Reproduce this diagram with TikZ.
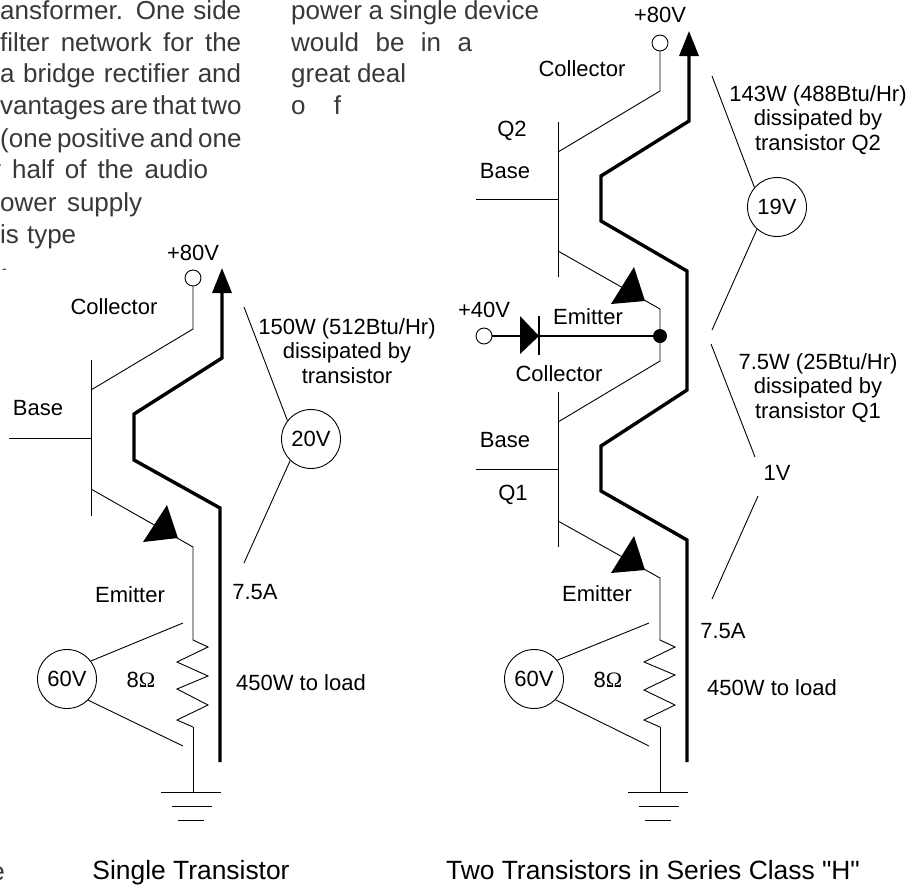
\documentclass[tikz,border=0pt]{standalone}
\usepackage{fontspec}
\setmainfont{Liberation Sans}
\newfontfamily\ohmfont{Liberation Serif}
\newfontfamily\quotefont{Liberation Sans}
\usetikzlibrary{arrows.meta}
\newcommand{\bodyline}[2]{\makebox[#1][s]{#2}}
\newcommand{\groundmark}[2]{%
	\draw[thinwire] (#1) -- (#2,792);
	\draw[thinwire] (#2-32,792) -- (#2+28,792);
	\draw[thinwire] (#2-21,806) -- (#2+19,806);
	\draw[thinwire] (#2-15,820) -- (#2+11,820);
}
\begin{document}
\begin{tikzpicture}[x=1pt,y=-1pt]
		\tikzstyle{thinwire}=[draw=black,line width=0.9pt,line join=miter]
		\tikzstyle{current}=[draw=black,line width=3.4pt,line join=miter]
		\tikzstyle{uparrow}=[current,-{Triangle[length=25pt,width=19pt]}]
		\tikzstyle{tipfill}=[fill=black]
		\tikzstyle{volt}=[circle,draw=black,line width=0.9pt,minimum size=59pt,inner sep=0pt,font=\fontsize{22}{24}\selectfont]
		\tikzstyle{term}=[circle,draw=black,fill=white,line width=0.9pt,minimum size=16pt,inner sep=0pt]
		\tikzstyle{lab}=[inner sep=0pt,font=\fontsize{22}{24.5}\selectfont,align=center]
		\tikzstyle{captext}=[inner sep=0pt,anchor=base,font=\fontsize{26.4}{30}\selectfont]
		\tikzstyle{bodytext}=[inner sep=0pt,anchor=base west,text=black!78,font=\fontsize{26}{32}\selectfont]
		
		\useasboundingbox (0,0) rectangle (917,884);
		
		% text cut by the page
		\node[bodytext] (t1) at (0,19) {\bodyline{241pt}{ansformer. One side}};
		\node[bodytext] (t2) at (0,51) {\bodyline{241pt}{filter network for the}};
		\node[bodytext] (t3) at (0,82) {\bodyline{241pt}{a bridge rectifier and}};
		\node[bodytext] (t4) at (0,114) {\bodyline{241pt}{vantages are that two}};
		\node[bodytext] (t5) at (0,147) {\bodyline{241pt}{(one positive and one}};
		\node[bodytext] (t6) at (-12,178) {\bodyline{220pt}{y half of the audio}};
		\node[bodytext] (t7) at (0,211) {\bodyline{142pt}{ower supply}};
		\node[bodytext] (t8) at (0,243) {\bodyline{76pt}{is type}};
		\node[bodytext,font=\fontsize{14}{16}\selectfont] (t9) at (2,273) {-};
		\node[bodytext,anchor=base east] (t10) at (5,880) {e};
		\node[bodytext] (u1) at (291,19) {\bodyline{248pt}{power a single device}};
		\node[bodytext] (u2) at (291,51) {\bodyline{181pt}{would be in a}};
		\node[bodytext] (u3) at (291,82) {\bodyline{115pt}{great deal}};
		\node[bodytext] (u4) at (291,114) {\bodyline{50pt}{o f}};
		
		% single transistor
		\node[term] (Aplus) at (193,278) {};
		\node[lab] (Asupply) at (193,253) {+80V};
		\node[lab] (Acoll) at (114,307) {Collector};
		\node[lab] (Abase) at (38,408) {Base};
		\node[lab] (Aemit) at (130,595) {Emitter};
		\node[lab] (Acur) at (255,592) {7.5A};
		\node[lab] (Aohm) at (141,680) {8{\ohmfont Ω}};
		\node[lab] (Aload) at (301,683) {450W to load};
		\node[lab] (Adiss) at (347,351) {150W (512Btu/Hr)\\dissipated by\\transistor};
		\node[volt] (Adrop) at (311,439) {20V};
		\node[volt] (Asense) at (67,679) {60V};
		
		\coordinate (Ac) at (193,329);
		\coordinate (Abt) at (91,360);
		\coordinate (Acb) at (91,390);
		\coordinate (Abm) at (91,438);
		\coordinate (Ain) at (9,438);
		\coordinate (Aeb) at (91,489);
		\coordinate (Abb) at (91,516);
		\coordinate (Ae) at (193,547);
		\coordinate (Ar) at (193,727);
		
		\draw[thinwire] (Aplus) -- (Ac) -- (Acb);
		\draw[thinwire] (Abt) -- (Abb);
		\draw[thinwire] (Ain) -- (Abm);
		\draw[thinwire] (Aeb) -- (Ae) -- (193,640) -- (208,647) -- (177,662) -- (208,676) -- (177,689) -- (208,705) -- (177,720) -- (Ar);
		\fill[tipfill] (167,505) -- (143,542) -- (178,538) -- cycle;
		\groundmark{Ar}{193}
		\draw[uparrow] (220,762) -- (220,508) -- (134,460) -- (134,414) -- (222,358) -- (222,268);
		
		\coordinate (Avt) at (244,307);
		\coordinate (Avb) at (244,563);
		\coordinate (Ast) at (183,623);
		\coordinate (Asb) at (183,746);
		\draw[thinwire] (Avt) -- (Adrop.142);
		\draw[thinwire] (Adrop.226) -- (Avb);
		\draw[thinwire] (Asense.37) -- (Ast);
		\draw[thinwire] (Asense.-45) -- (Asb);
		
		% two transistors in series
		\node[term] (Bplus) at (660,43) {};
		\node[lab] (Bsupply) at (660,15) {+80V};
		\node[lab] (Bcoll) at (582,69) {Collector};
		\node[lab] (Bqtwo) at (512,131) {Q2};
		\node[lab] (Bbase) at (505,171) {Base};
		\node[lab] (Bmid) at (484,310) {+40V};
		\node[lab] (Bemit) at (588,317) {Emitter};
		\node[lab] (Ccoll) at (559,374) {Collector};
		\node[lab] (Cbase) at (505,440) {Base};
		\node[lab] (Cqone) at (513,495) {Q1};
		\node[lab] (Cemit) at (597,594) {Emitter};
		\node[lab] (Ccur) at (723,631) {7.5A};
		\node[lab] (Cohm) at (608,680) {8{\ohmfont Ω}};
		\node[lab] (Cload) at (772,688) {450W to load};
		\node[lab] (Bdiss) at (818,120) {143W (488Btu/Hr)\\dissipated by\\transistor Q2};
		\node[lab] (Cdiss) at (818,388) {7.5W (25Btu/Hr)\\dissipated by\\transistor Q1};
		\node[lab] (Cdrop) at (777,473) {1V};
		\node[volt] (Bdrop) at (777,207) {19V};
		\node[volt] (Csense) at (534,679) {60V};
		\node[term] (Bin) at (484,336) {};
		\node[circle,fill=black,minimum size=14pt,inner sep=0pt] (Bjoin) at (660,336) {};
		
		\coordinate (Bc) at (660,91);
		\coordinate (Bbt) at (558,122);
		\coordinate (Bcb) at (558,152);
		\coordinate (Bbm) at (558,199);
		\coordinate (Bbi) at (476,199);
		\coordinate (Beb) at (558,251);
		\coordinate (Bbb) at (558,277);
		\coordinate (Be) at (660,309);
		\coordinate (Cc) at (660,361);
		\coordinate (Cbt) at (558,392);
		\coordinate (Ccb) at (558,422);
		\coordinate (Cbm) at (558,469);
		\coordinate (Cbi) at (476,469);
		\coordinate (Ceb) at (558,521);
		\coordinate (Cbb) at (558,547);
		\coordinate (Ce) at (660,578);
		\coordinate (Cr) at (660,727);
		\coordinate (Dk) at (539,336);
		
		\draw[thinwire] (Bplus) -- (Bc) -- (Bcb);
		\draw[thinwire] (Bbt) -- (Bbb);
		\draw[thinwire] (Bbi) -- (Bbm);
		\draw[thinwire] (Beb) -- (Be) -- (Bjoin) -- (Cc) -- (Ccb);
		\fill[tipfill] (634,267) -- (611,304) -- (645,301) -- cycle;
		\draw[thinwire] (Cbt) -- (Cbb);
		\draw[thinwire] (Cbi) -- (Cbm);
		\draw[thinwire] (Ceb) -- (Ce) -- (660,640) -- (675,647) -- (644,662) -- (675,675) -- (644,690) -- (675,705) -- (644,720) -- (Cr);
		\fill[tipfill] (634,536) -- (611,573) -- (645,570) -- cycle;
		\groundmark{Cr}{660}
		
		% diode
		\draw[line width=1.6pt] (Bin) -- (Bjoin);
		\fill[tipfill] (520,316) -- (520,354) -- (Dk) -- cycle;
		\draw[line width=1.6pt] (539,316) -- (539,355);
		
		\draw[uparrow] (687,762) -- (687,540) -- (601,491) -- (601,446) -- (687,390) -- (687,271) -- (601,221) -- (601,176) -- (689,121) -- (689,31);
		
		\coordinate (Bvt) at (712,76);
		\coordinate (Bvb) at (712,330);
		\coordinate (Cvt) at (711,344);
		\coordinate (Cvm) at (755,457);
		\coordinate (Cvn) at (758,496);
		\coordinate (Cvb) at (712,599);
		\coordinate (Cst) at (649,623);
		\coordinate (Csb) at (649,746);
		\draw[thinwire] (Bvt) -- (Bdrop.139);
		\draw[thinwire] (Bdrop.228) -- (Bvb);
		\draw[thinwire] (Cvt) -- (Cvm);
		\draw[thinwire] (Cvn) -- (Cvb);
		\draw[thinwire] (Csense.39) -- (Cst);
		\draw[thinwire] (Csense.-44) -- (Csb);
		
		% captions
		\node[captext] (Acap) at (191,879) {Single Transistor};
		\node[captext] (Bcap) at (653,879) {Two Transistors in Series Class {\quotefont "}H{\quotefont "}};
	\end{tikzpicture}
\end{document}
